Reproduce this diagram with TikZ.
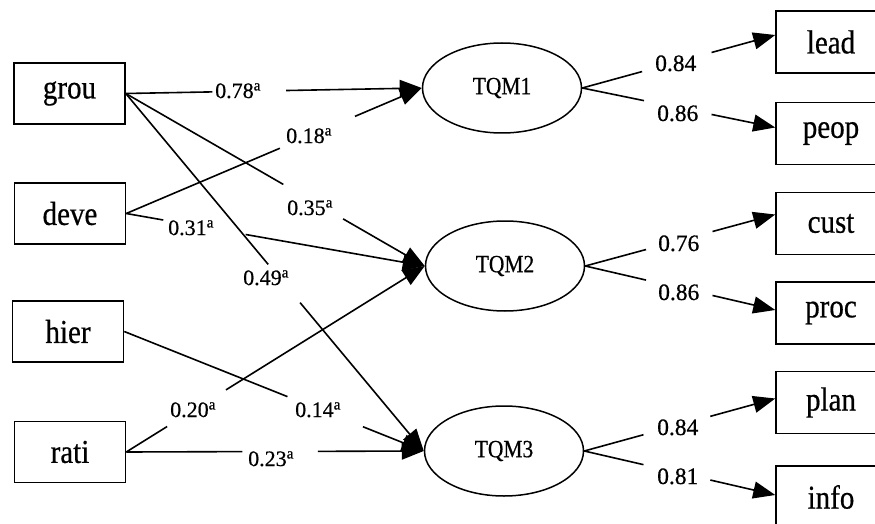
\documentclass[tikz,border=0pt]{standalone}
\usepackage{fontspec}
\usepackage{graphicx}
\setmainfont{Liberation Serif}[FakeBold=0.6]
\usetikzlibrary{arrows.meta,calc,shapes.geometric}

% slightly tall lettering used inside the boxes and ellipses
\newcommand{\tall}[1]{\scalebox{1}[1.15]{#1}}
% a straight connector from #1 to #2, interrupted between fractions #3 and #4
\newcommand{\gapedge}[4]{%
  \draw[link] (#1) -- ($(#1)!#3!(#2)$);
  \draw[arr] ($(#1)!#4!(#2)$) -- (#2);}

\begin{document}
\begin{tikzpicture}[x=1pt,y=-1pt,
  obs/.style={draw, line width=1.5pt, minimum width=111pt, minimum height=61pt,
    inner sep=0pt, font=\fontsize{29}{34}\selectfont},
  ind/.style={obs, minimum width=110pt, minimum height=62pt},
  lat/.style={draw, ellipse, line width=1.5pt, minimum width=159pt,
    minimum height=90pt, inner sep=0pt, font=\fontsize{21.5}{25}\selectfont},
  link/.style={line width=1.6pt},
  arr/.style={link, -{Triangle[length=22pt,width=17pt]}},
  coef/.style={inner sep=0pt, anchor=base west, font=\fontsize{22}{26}\selectfont},
  load/.style={inner sep=0pt, anchor=base west, font=\fontsize{23.5}{28}\selectfont}]

\useasboundingbox (0,0) rectangle (875,524);
\clip (0,0) rectangle (875,524);

% exogenous measures
\node[obs] (grou) at (69.5,93.5)  {\tall{grou}};
\node[obs] (deve) at (70,213.5)   {\tall{deve}};
\node[obs] (hier) at (68,331.5)   {\tall{hier}};
\node[obs] (rati) at (70,452)     {\tall{rati}};

% latent TQM factors
\node[lat] (T1) at (502,88)  {\tall{TQM1}};
\node[lat] (T2) at (505,266) {\tall{TQM2}};
\node[lat] (T3) at (504,451) {\tall{TQM3}};

% indicators
\node[ind] (lead) at (831,42)    {\tall{lead}};
\node[ind] (peop) at (831,133.5) {\tall{peop}};
\node[ind] (cust) at (831,223.5) {\tall{cust}};
\node[ind] (proc) at (831,313)   {\tall{proc}};
\node[ind] (plan) at (831,402.5) {\tall{plan}};
\node[ind] (info) at (831,497)   {\tall{info}};

\coordinate (leadin) at ([yshift=7pt]lead.west);
\coordinate (peopin) at ([yshift=6pt]peop.west);
\coordinate (custin) at ([yshift=9pt]cust.west);
\coordinate (procin) at ([yshift=3pt]proc.west);
\coordinate (planin) at ([yshift=4pt]plan.west);
\coordinate (infoin) at ([yshift=2pt]info.west);

% structural paths
\gapedge{grou.east}{T1.west}{0.293}{0.542}
\gapedge{deve.east}{T1.west}{0.52}{0.774}
\gapedge{grou.east}{T2.west}{0.527}{0.727}
\gapedge{deve.east}{T2.west}{0.124}{0.40}
\gapedge{grou.east}{T3.west}{0.478}{0.585}
\gapedge{hier.east}{T3.west}{0.545}{0.797}
\gapedge{rati.east}{T2.west}{0.137}{0.334}
\gapedge{rati.east}{T3.west}{0.39}{0.644}

\node[coef] (c1) at (215,98)  {0.78\textsuperscript{a}};
\node[coef] (c2) at (286,143) {0.18\textsuperscript{a}};
\node[coef] (c3) at (287,215) {0.35\textsuperscript{a}};
\node[coef] (c4) at (168,235) {0.31\textsuperscript{a}};
\node[coef] (c5) at (243,285) {0.49\textsuperscript{a}};
\node[coef] (c6) at (295,417) {0.14\textsuperscript{a}};
\node[coef] (c7) at (170,417) {0.20\textsuperscript{a}};
\node[coef] (c8) at (248,466) {0.23\textsuperscript{a}};

% measurement paths
\gapedge{T1.east}{leadin}{0.31}{0.67}
\gapedge{T1.east}{peopin}{0.32}{0.67}
\gapedge{T2.east}{custin}{0.32}{0.67}
\gapedge{T2.east}{procin}{0.32}{0.67}
\gapedge{T3.east}{planin}{0.31}{0.66}
\gapedge{T3.east}{infoin}{0.31}{0.66}

\node[load] (m1) at (655,71)  {0.84};
\node[load] (m2) at (657,121) {0.86};
\node[load] (m3) at (658,251) {0.76};
\node[load] (m4) at (658,300) {0.86};
\node[load] (m5) at (657,435) {0.84};
\node[load] (m6) at (657,484) {0.81};
\end{tikzpicture}
\end{document}
